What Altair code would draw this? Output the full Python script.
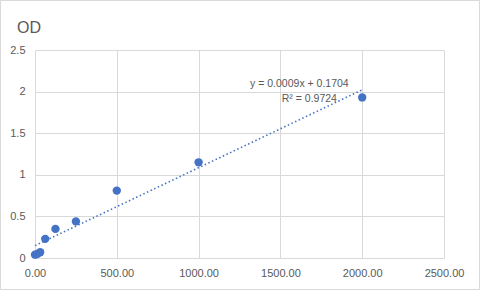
import altair as alt
import pandas as pd

conc = [0, 15.6, 31.25, 62.5, 125, 250, 500, 1000, 2000]
od = [0.04, 0.05, 0.07, 0.23, 0.35, 0.44, 0.81, 1.15, 1.93]
eq_text = ["y = 0.0009x + 0.1704", "R² = 0.9724"]
eq_x = [1616, 1677]
eq_y = [2.09, 1.91]
title_text = ["OD"]

df = pd.DataFrame({"conc": conc, "od": od})
lab = pd.DataFrame({"t": eq_text, "x": eq_x, "y": eq_y})
one = pd.DataFrame({"t": title_text})

FONT = "Liberation Sans"
GRAY = "#595959"
BLUE = "#4472C4"

xs = alt.Scale(domain=[0, 2500], nice=False, zero=False)
ys = alt.Scale(domain=[0, 2.5], nice=False)

xax = alt.Axis(values=[0, 500, 1000, 1500, 2000, 2500], format=".2f", title=None,
               grid=True, gridColor="#d9d9d9", domain=False, ticks=False,
               labelOverlap=False, labelFlush=False, labelBound=False,
               labelColor=GRAY, labelFont=FONT, labelFontSize=11, labelPadding=9)
yax = alt.Axis(values=[0, 0.5, 1, 1.5, 2, 2.5], format=".1~f", title=None,
               grid=True, gridColor="#d9d9d9", domain=False, ticks=False,
               labelOverlap=False, labelFlush=False, labelBound=False,
               labelColor=GRAY, labelFont=FONT, labelFontSize=11, labelPadding=10)

base = alt.Chart(df)

frame = alt.Chart(one).mark_rect(fill=None, stroke="#d9d9d9", strokeWidth=1).encode(
    x=alt.value(-34.5), x2=alt.value(444.5), y=alt.value(-49.5), y2=alt.value(239.5)
)

title = alt.Chart(one).mark_text(font=FONT, fontSize=16, fontWeight="normal", color=GRAY,
                                 align="left", baseline="alphabetic").encode(
    x=alt.value(-18), y=alt.value(-17), text="t:N"
)

trend = base.transform_regression("conc", "od", extent=[0, 2000]).mark_line(
    color=BLUE, strokeDash=[1.5, 2.5], strokeWidth=1.6
).encode(x=alt.X("conc:Q", scale=xs, axis=xax), y=alt.Y("od:Q", scale=ys, axis=yax))

pts = base.mark_circle(color=BLUE, size=70, opacity=1).encode(
    x=alt.X("conc:Q", scale=xs, axis=xax), y=alt.Y("od:Q", scale=ys, axis=yax)
)

txt = alt.Chart(lab).mark_text(font=FONT, fontSize=10.5, color=GRAY, align="center",
                                baseline="middle").encode(
    x=alt.X("x:Q", scale=xs), y=alt.Y("y:Q", scale=ys), text="t:N"
)

chart = alt.layer(frame, title, trend, pts, txt).properties(
    width=409, height=208,
    autosize=alt.AutoSizeParams(type="none"),
    padding={"left": 35, "top": 50, "right": 36, "bottom": 32},
    background="white",
).configure_view(stroke=None)

chart.save("out.html", embed_options={"renderer": "svg", "actions": False})
